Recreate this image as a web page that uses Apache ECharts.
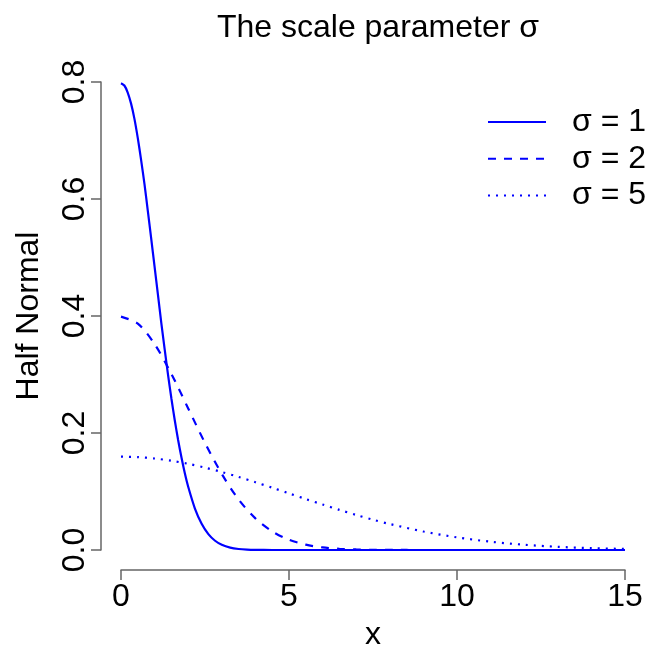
<!DOCTYPE html>
<html><head><meta charset="utf-8">
<script src="https://cdn.jsdelivr.net/npm/echarts@6/dist/echarts.min.js"></script>
<style>html,body{margin:0;padding:0;background:#fff}#c{width:647px;height:650px}</style>
</head><body><div id="c"></div>
<script>
// sigma = 1
var x1 = [0,0.1,0.2,0.3,0.4,0.5,0.6,0.7,0.8,0.9,1,1.1,1.2,1.3,1.4,1.5,1.6,1.7,1.8,1.9,2,2.2,2.4,2.6,2.8,3,3.25,3.5,3.75,4,4.5,5,6,8,10,12,15];
var y1 = [0.798,0.794,0.782,0.763,0.737,0.704,0.666,0.625,0.579,0.532,0.484,0.436,0.388,0.343,0.2995,0.259,0.2218,0.188,0.158,0.131,0.108,0.0709,0.0448,0.0272,0.0158,0.0089,0.0041,0.00175,0.0007,0.00027,0.00003,0,0,0,0,0,0];
// sigma = 2
var x2 = [0,0.5,1,1.5,2,2.5,3,3.5,4,4.5,5,5.5,6,6.5,7,7.5,8,9,10,12,15];
var y2 = [0.399,0.387,0.352,0.301,0.242,0.183,0.130,0.0863,0.054,0.0318,0.0175,0.0091,0.0044,0.002,0.0009,0.00035,0.00013,0.00001,0,0,0];
// sigma = 5
var x5 = [0,0.5,1,1.5,2,2.5,3,3.5,4,4.5,5,5.5,6,6.5,7,7.5,8,9,10,11,12,13,14,15];
var y5 = [0.1596,0.1588,0.1564,0.1526,0.1473,0.1408,0.1333,0.1249,0.1159,0.1065,0.0968,0.0871,0.0777,0.0686,0.0599,0.0518,0.0444,0.0316,0.0216,0.0142,0.00896,0.00543,0.00317,0.00177];
var seriesNames = ['σ = 1','σ = 2','σ = 5'];
var xTicks = [0,5,10,15];
var yTicks = [0,0.2,0.4,0.6,0.8];

function pairs(xs, ys){ return xs.map(function(v,i){ return [v, ys[i]]; }); }
var FONT = '"Liberation Sans", Arial, sans-serif';
var FS = 32;
var chart = echarts.init(document.getElementById('c'), null, {renderer:'canvas'});
function mk(name, xs, ys, type){
  return {name:name, type:'line', data:pairs(xs,ys), smooth:0.3, symbol:'none', symbolSize:0, showSymbol:false,
    lineStyle:{color:'#0000ff', width:2.2, type:type, cap:'butt'}, itemStyle:{color:'#0000ff', opacity:0}, animation:false};
}
chart.setOption({
  animation:false,
  title:{text:'The scale parameter σ', left:373, textAlign:'center', top:7,
    textStyle:{fontFamily:FONT, fontSize:FS, fontWeight:'normal', color:'#000'}},
  legend:{orient:'vertical', left:482, top:101, itemWidth:58, itemHeight:4, itemGap:4.8,
    itemStyle:{opacity:0},
    textStyle:{fontFamily:FONT, fontSize:FS, color:'#000', padding:[0,0,0,21], lineHeight:32},
    data:seriesNames},
  grid:{left:121, right:22, top:82, bottom:100, containLabel:false, outerBoundsMode:'none'},
  xAxis:{type:'value', min:0, max:15, interval:5, offset:20,
    name:'x', nameLocation:'middle', nameGap:49,
    nameTextStyle:{fontFamily:FONT, fontSize:FS, color:'#000'},
    axisLine:{show:true, onZero:false, lineStyle:{color:'#666', width:1.5}},
    axisTick:{show:true, length:10, lineStyle:{color:'#666', width:1.5}},
    axisLabel:{fontFamily:FONT, fontSize:FS, color:'#000', margin:11,
      formatter:function(v){ return xTicks.indexOf(v)>=0 ? String(v) : ''; }},
    splitLine:{show:false}},
  yAxis:{type:'value', min:0, max:0.8, interval:0.2, offset:20,
    name:'Half Normal', nameLocation:'middle', nameGap:56,
    nameTextStyle:{fontFamily:FONT, fontSize:FS, color:'#000'},
    axisLine:{show:true, onZero:false, lineStyle:{color:'#666', width:1.5}},
    axisTick:{show:true, length:10, lineStyle:{color:'#666', width:1.5}},
    axisLabel:{fontFamily:FONT, fontSize:FS, color:'#000', rotate:90, margin:10,
      formatter:function(v){ return v.toFixed(1); }},
    splitLine:{show:false}},
  series:[mk(seriesNames[0],x1,y1,'solid'), mk(seriesNames[1],x2,y2,[8,8]), mk(seriesNames[2],x5,y5,[2,6])]
});
</script></body></html>
